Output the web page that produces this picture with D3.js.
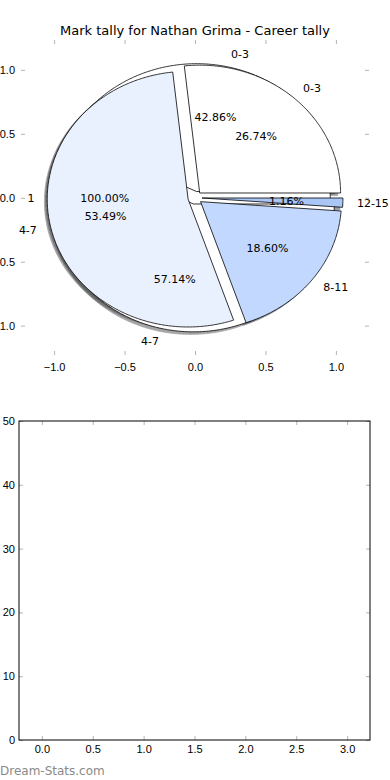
<!DOCTYPE html>
<html>
<head>
<meta charset="utf-8">
<script src="https://cdn.jsdelivr.net/npm/d3@7"></script>
<style>
  body { margin: 0; background: #fff; }
  svg { display: block; font-family: "DejaVu Sans", sans-serif; }
</style>
</head>
<body>
<svg id="chart" width="390" height="780"></svg>
<script>
// pie rings, drawn bottom to top
const allLabels = ["1"];
const allValues = [1];
const groupLabels = ["0-3", "4-7"];
const groupValues = [3, 4];
const markLabels = ["0-3", "4-7", "8-11", "12-15"];
const markValues = [23, 46, 16, 1];

const pieTicks = [-1.0, -0.5, 0.0, 0.5, 1.0];
const barXTicks = [0.0, 0.5, 1.0, 1.5, 2.0, 2.5, 3.0];
const barYTicks = [0, 10, 20, 30, 40, 50];

const svg = d3.select("#chart");
const tickGrey = "#b4b4b4";

svg.append("text")
  .attr("x", 195).attr("y", 35)
  .attr("text-anchor", "middle")
  .style("font-size", "13px")
  .text("Mark tally for Nathan Grima - Career tally");

// ---- top axes (pie) ----
const xPie = d3.scaleLinear().domain([-1.235, 1.235]).range([21, 369]);
const yPie = d3.scaleLinear().domain([-1.23, 1.234]).range([355, 40]);

function styleAxis(g, showLabels) {
  g.select(".domain").remove();
  g.selectAll(".tick line").attr("stroke", tickGrey);
  g.selectAll(".tick text").style("font-size", "11px").attr("fill", "#000");
  if (!showLabels) g.selectAll(".tick text").remove();
}

const fmt1 = d3.format(".1f");
svg.append("g").attr("transform", "translate(0,355)")
  .call(d3.axisBottom(xPie).tickValues(pieTicks).tickFormat(fmt1).tickSizeInner(-4).tickPadding(8))
  .call(g => styleAxis(g, true));
svg.append("g").attr("transform", "translate(0,40)")
  .call(d3.axisTop(xPie).tickValues(pieTicks).tickSizeInner(-4))
  .call(g => styleAxis(g, false));
svg.append("g").attr("transform", "translate(21,0)")
  .call(d3.axisLeft(yPie).tickValues(pieTicks).tickFormat(fmt1).tickSizeInner(-4).tickPadding(6))
  .call(g => styleAxis(g, true));
svg.append("g").attr("transform", "translate(369,0)")
  .call(d3.axisRight(yPie).tickValues(pieTicks).tickSizeInner(-4))
  .call(g => styleAxis(g, false));

const rings = [
  { labels: allLabels, values: allValues, colors: ["#ffffff"], explode: 0.04 },
  { labels: groupLabels, values: groupValues, colors: ["#ffffff", "#ffffff"], explode: 0.05 },
  { labels: markLabels, values: markValues, colors: ["#ffffff", "#eaf1fe", "#c3d8fe", "#a9c6f6"], explode: 0.05 }
];

// angles from d3.pie, read as counter-clockwise from 3 o'clock
const pie = d3.pie().sort(null).startAngle(0).endAngle(2 * Math.PI);
const line = d3.line().x(d => xPie(d[0])).y(d => yPie(d[1]));

function wedgePoints(a, explode, dx, dy) {
  const mid = (a.startAngle + a.endAngle) / 2;
  const cx = explode * Math.cos(mid) + dx;
  const cy = explode * Math.sin(mid) + dy;
  const n = Math.max(2, Math.ceil((a.endAngle - a.startAngle) / 0.01));
  const pts = [];
  const full = a.endAngle - a.startAngle > 2 * Math.PI - 1e-9;
  if (!full) pts.push([cx, cy]);
  for (let i = 0; i <= n; i++) {
    const t = a.startAngle + (a.endAngle - a.startAngle) * i / n;
    pts.push([cx + Math.cos(t), cy + Math.sin(t)]);
  }
  return pts;
}

rings.forEach(r => { r.arcs = pie(r.values); });

const shadowLayer = svg.append("g");
const wedgeLayer = svg.append("g");
const textLayer = svg.append("g").style("font-size", "11px");

rings.forEach(r => {
  r.arcs.forEach((a, i) => {
    const c = d3.rgb(r.colors[i]);
    const dark = d3.rgb(c.r * 0.3, c.g * 0.3, c.b * 0.3);
    shadowLayer.append("path")
      .attr("d", line(wedgePoints(a, r.explode, -0.02, -0.02)) + "Z")
      .attr("fill", dark).attr("stroke", dark)
      .attr("opacity", 0.5).attr("stroke-width", 0.8);
  });
});

rings.forEach(r => {
  const total = d3.sum(r.values);
  r.arcs.forEach((a, i) => {
    wedgeLayer.append("path")
      .attr("d", line(wedgePoints(a, r.explode, 0, 0)) + "Z")
      .attr("fill", r.colors[i])
      .attr("stroke", "#000").attr("stroke-width", 0.8)
      .attr("stroke-linejoin", "round");

    const mid = (a.startAngle + a.endAngle) / 2;
    const cx = r.explode * Math.cos(mid);
    const cy = r.explode * Math.sin(mid);
    const lx = cx + 1.1 * Math.cos(mid);
    const ly = cy + 1.1 * Math.sin(mid);
    textLayer.append("text")
      .attr("x", xPie(lx)).attr("y", yPie(ly))
      .attr("dy", "0.35em")
      .attr("text-anchor", lx > 0 ? "start" : "end")
      .text(r.labels[i]);
    textLayer.append("text")
      .attr("x", xPie(cx + 0.6 * Math.cos(mid))).attr("y", yPie(cy + 0.6 * Math.sin(mid)))
      .attr("dy", "0.35em")
      .attr("text-anchor", "middle")
      .text(d3.format(".2f")(r.values[i] / total * 100) + "%");
  });
});

// ---- bottom axes (empty) ----
const xBar = d3.scaleLinear().domain([-0.225, 3.225]).range([19, 370]);
const yBar = d3.scaleLinear().domain([0, 50]).range([740, 421]);

svg.append("g").attr("transform", "translate(0,740)")
  .call(d3.axisBottom(xBar).tickValues(barXTicks).tickFormat(fmt1).tickSizeInner(-4).tickPadding(5))
  .call(g => styleAxis(g, true));
svg.append("g").attr("transform", "translate(0,421)")
  .call(d3.axisTop(xBar).tickValues(barXTicks).tickSizeInner(-4))
  .call(g => styleAxis(g, false));
svg.append("g").attr("transform", "translate(19,0)")
  .call(d3.axisLeft(yBar).tickValues(barYTicks).tickFormat(d3.format("d")).tickSizeInner(-4).tickPadding(4))
  .call(g => styleAxis(g, true));
svg.append("g").attr("transform", "translate(370,0)")
  .call(d3.axisRight(yBar).tickValues(barYTicks).tickSizeInner(-4))
  .call(g => styleAxis(g, false));

svg.append("rect")
  .attr("x", 19).attr("y", 421)
  .attr("width", 351).attr("height", 319)
  .attr("fill", "none").attr("stroke", "#000").attr("stroke-width", 1);

svg.append("text")
  .attr("x", 0).attr("y", 775)
  .attr("fill", "#8a8a8a")
  .style("font-size", "12px")
  .text("Dream-Stats.com");
</script>
</body>
</html>
